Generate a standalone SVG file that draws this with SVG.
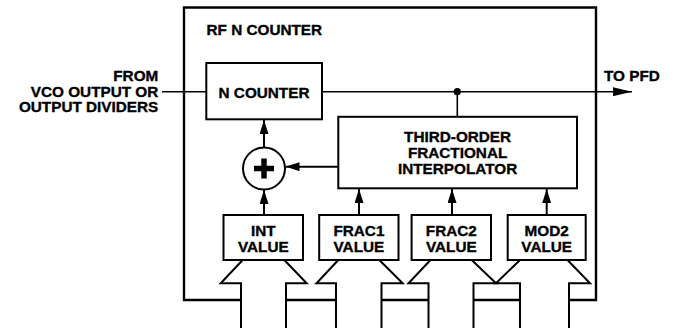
<svg xmlns="http://www.w3.org/2000/svg" width="674" height="328" viewBox="0 0 674 328">
<defs>
<style>
text{font-family:"Liberation Sans",Arial,Helvetica,sans-serif;font-weight:bold;font-size:15.3px;fill:#000;stroke:#000;stroke-width:0.35}
.m{text-anchor:middle}
.e{text-anchor:end}
.box{fill:#fff;stroke:#000;stroke-width:2}
.ln{fill:none;stroke:#000;stroke-width:2}
.th{fill:none;stroke:#000;stroke-width:1.6}
.ol{fill:none;stroke:#000;stroke-width:2.4}
</style>
<marker id="ah" markerUnits="userSpaceOnUse" markerWidth="14" markerHeight="9" refX="14" refY="4.5" orient="auto" viewBox="0 0 14 9">
<path d="M0,0 L14,4.5 L0,9 z" fill="#000"/>
</marker>
<marker id="ahb" markerUnits="userSpaceOnUse" markerWidth="19" markerHeight="9" refX="19" refY="4.5" orient="auto" viewBox="0 0 19 9">
<path d="M0,0 L19,4.5 L0,9 z" fill="#000"/>
</marker>
</defs>
<g id="outer">
<path class="ol" d="M241,300 H184 V7.5 H596 V300 H569"/>
<path class="ol" d="M286,300 H336 M381.5,300 H428.5 M473.5,300 H520"/>
<text x="206.5" y="35">RF N COUNTER</text>
</g>
<g id="connectors">
<path class="th" d="M162,91.7 H206"/>
<path class="th" d="M322,91.7 H632" marker-end="url(#ahb)"/>
<path class="th" d="M457.3,91.7 V117"/>
<circle cx="457.3" cy="91.7" r="3.6" fill="#000"/>
<path class="ln" d="M338,166.7 H285.5" marker-end="url(#ah)"/>
<path class="ln" d="M264,147.5 V120" marker-end="url(#ah)"/>
<path class="ln" d="M264,215 V190" marker-end="url(#ah)"/>
<path class="ln" d="M359,215 V189" marker-end="url(#ah)"/>
<path class="ln" d="M452,215 V189" marker-end="url(#ah)"/>
<path class="ln" d="M546.7,215 V189" marker-end="url(#ah)"/>
</g>
<g id="input-label">
<text class="e" x="158.3" y="81">FROM</text>
<text class="e" x="158.3" y="96.7">VCO OUTPUT OR</text>
<text class="e" x="158.3" y="112.4">OUTPUT DIVIDERS</text>
</g>
<g id="output-label">
<text x="604" y="81">TO PFD</text>
</g>
<g id="n-counter">
<rect class="box" x="206.3" y="63" width="115.7" height="56.3"/>
<text class="m" x="264" y="97.7">N COUNTER</text>
</g>
<g id="interpolator">
<rect class="box" x="338.3" y="116.8" width="238.7" height="71.5"/>
<text class="m" x="457.6" y="142.4">THIRD-ORDER</text>
<text class="m" x="457.6" y="158.1">FRACTIONAL</text>
<text class="m" x="457.6" y="173.8">INTERPOLATOR</text>
</g>
<g id="adder">
<circle cx="264" cy="168.5" r="21" fill="#fff" stroke="#000" stroke-width="2"/>
<path d="M264,158.5 V178.5 M254,168.5 H274" stroke="#000" stroke-width="5.5" fill="none"/>
</g>
<g id="int-value">
<rect class="box" x="223.5" y="215" width="79.5" height="45"/>
<text class="m" x="263.3" y="236">INT</text>
<text class="m" x="263.3" y="251.7">VALUE</text>
<path class="ln" d="M242.7,260 L220.7,283.3 H241 V328 M284.3,260 L306.7,283.3 H286 V328"/>
</g>
<g id="frac1-value">
<rect class="box" x="319.2" y="215" width="79.3" height="45"/>
<text class="m" x="358.9" y="236">FRAC1</text>
<text class="m" x="358.9" y="251.7">VALUE</text>
<path class="ln" d="M338.3,260 L316.5,283.3 H336 V328 M379.3,260 L402.7,283.3 H381.5 V328"/>
</g>
<g id="frac2-value">
<rect class="box" x="411.6" y="215" width="79.4" height="45"/>
<text class="m" x="451.3" y="236">FRAC2</text>
<text class="m" x="451.3" y="251.7">VALUE</text>
<path class="ln" d="M430.5,260 L408.5,283.3 H428.5 V328 M471.7,260 L496,283.3 H473.5 V328"/>
</g>
<g id="mod2-value">
<rect class="box" x="507.7" y="215" width="78" height="45"/>
<text class="m" x="546.7" y="236">MOD2</text>
<text class="m" x="546.7" y="251.7">VALUE</text>
<path class="ln" d="M520,260 L496,283.3 H520 V328 M567.5,260 L590,283.3 H569 V328"/>
</g>
</svg>
